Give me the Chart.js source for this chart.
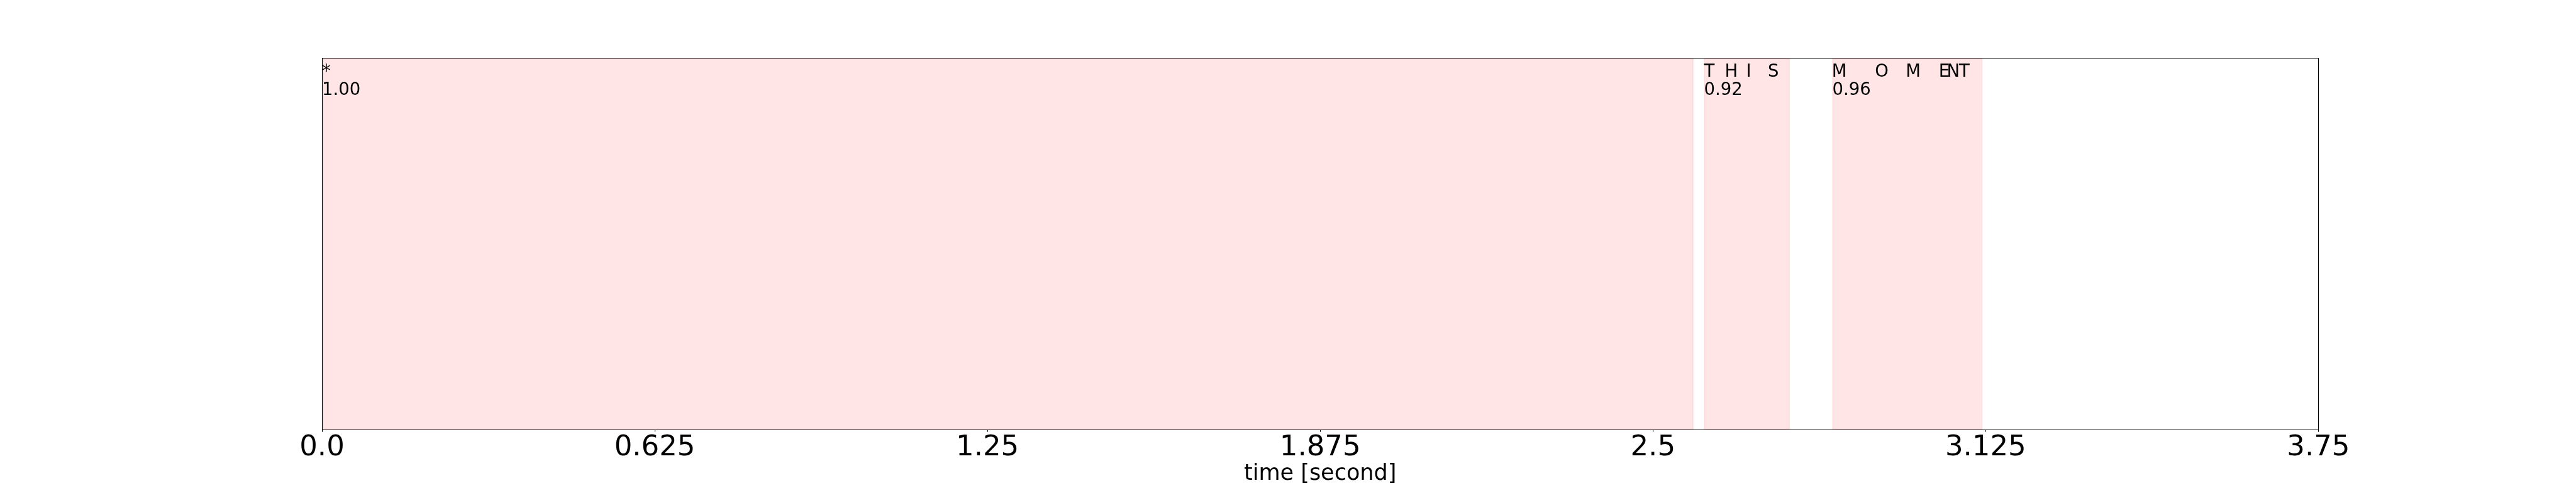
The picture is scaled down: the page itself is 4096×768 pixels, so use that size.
<!DOCTYPE html>
<html>
<head>
<meta charset="utf-8">
<script src="https://cdn.jsdelivr.net/npm/chart.js@4"></script>
<style>
  html, body { margin: 0; padding: 0; background: #ffffff; }
  #wrap { width: 4096px; height: 768px; position: relative; }
</style>
</head>
<body>
<div id="wrap"><canvas id="c" width="4096" height="768"></canvas></div>
<script>
// ---- data ----
const segStart = [0.0, 2.596, 2.837];
const segEnd   = [2.576, 2.757, 3.119];
const segScore = [1.00, 0.92, 0.96];
const tokenChars = [['*'], ['T', 'H', 'I', 'S'], ['M', 'O', 'M', 'E', 'N', 'T']];
const tokenTimes = [[0.0], [2.596, 2.635, 2.675, 2.716], [2.836, 2.917, 2.975, 3.037, 3.052, 3.075]];
const xTicks = [0, 0.625, 1.25, 1.875, 2.5, 3.125, 3.75];
const xTickLabels = ['0.0', '0.625', '1.25', '1.875', '2.5', '3.125', '3.75'];
const xTitle = 'time [second]';

const FONT = '"DejaVu Sans", "Liberation Sans", sans-serif';

const annotate = {
  id: 'annotate',
  afterDatasetsDraw(chart) {
    const ctx = chart.ctx;
    const xs = chart.scales.x;
    const top = chart.chartArea.top;
    ctx.save();
    ctx.fillStyle = '#000000';
    ctx.font = '27.5px ' + FONT;
    ctx.textAlign = 'left';
    ctx.textBaseline = 'alphabetic';
    tokenChars.forEach((chars, i) => {
      chars.forEach((ch, j) => {
        ctx.fillText(ch, xs.getPixelForValue(tokenTimes[i][j]), top + 30);
      });
      ctx.fillText(segScore[i].toFixed(2), xs.getPixelForValue(segStart[i]), top + 59);
    });
    ctx.restore();
  },
  afterDraw(chart) {
    const {left, top, right, bottom} = chart.chartArea;
    const ctx = chart.ctx;
    ctx.save();
    ctx.strokeStyle = '#000000';
    ctx.lineWidth = 1;
    ctx.strokeRect(Math.round(left) + 0.5, Math.round(top) + 0.5, Math.round(right - left), Math.round(bottom - top));
    ctx.restore();
  }
};

new Chart(document.getElementById('c'), {
  type: 'bar',
  data: {
    datasets: [{
      data: segStart.map((s, i) => ({ x: [s, segEnd[i]], y: 'row' })),
      backgroundColor: 'rgba(255,0,0,0.1)',
      borderColor: 'rgba(255,0,0,0.1)',
      borderWidth: 1,
      borderSkipped: false,
      barPercentage: 1,
      categoryPercentage: 1
    }]
  },
  options: {
    indexAxis: 'y',
    responsive: false,
    animation: false,
    events: [],
    layout: { padding: { left: 512, right: 409.6, top: 92.2, bottom: 0 } },
    plugins: { legend: { display: false }, tooltip: { enabled: false } },
    scales: {
      y: { type: 'category', labels: ['row'], display: false },
      x: {
        type: 'linear',
        min: 0,
        max: 3.75,
        afterBuildTicks: (s) => { s.ticks = xTicks.map(v => ({ value: v })); },
        afterFit: (s) => { s.height = 84.5; },
        grid: { display: true, drawOnChartArea: false, drawTicks: true, tickLength: 3.2, tickWidth: 1, tickColor: '#000000' },
        border: { display: true, color: '#000000', width: 1 },
        ticks: {
          color: '#000000',
          padding: 3,
          maxRotation: 0,
          autoSkip: false,
          font: { family: FONT, size: 45, lineHeight: 1 },
          callback: (v) => { const k = xTicks.indexOf(v); return k >= 0 ? xTickLabels[k] : ''; }
        },
        title: {
          display: true,
          text: xTitle,
          color: '#000000',
          padding: { top: 0, bottom: 0 },
          font: { family: FONT, size: 35, lineHeight: 0.8 }
        }
      }
    }
  },
  plugins: [annotate]
});
</script>
</body>
</html>
